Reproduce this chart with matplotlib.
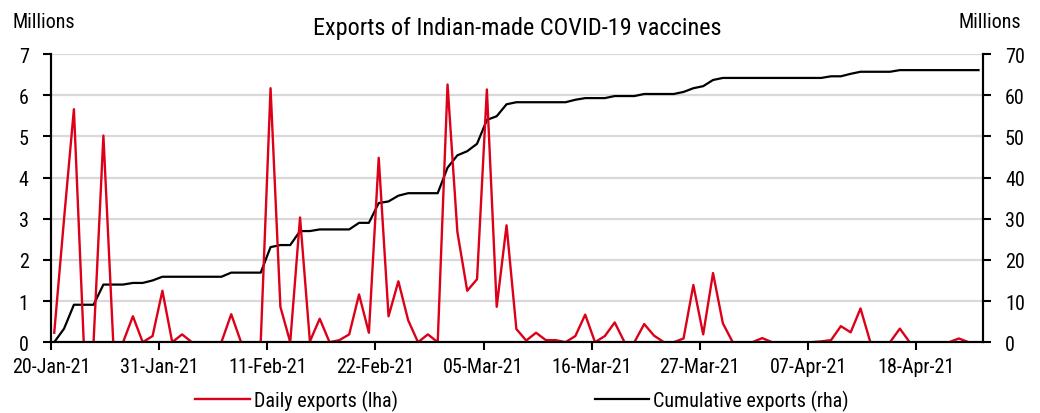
import numpy as np
import pandas as pd
import matplotlib
matplotlib.use('Agg')
import matplotlib.pyplot as plt
import matplotlib.dates as mdates

plt.rcParams['font.family'] = ['Liberation Sans Narrow', 'Arial Narrow', 'Roboto Condensed',
                               'Liberation Sans', 'DejaVu Sans']

# daily exports, millions of doses (left axis)
daily = [0.23, 3.0, 5.66, 0, 0, 5.02, 0, 0, 0.63, 0,
         0.15, 1.25, 0, 0.19, 0, 0, 0, 0, 0.68, 0,
         0, 0, 6.17, 0.86, 0, 3.03, 0.02, 0.57, 0, 0.05,
         0.19, 1.16, 0.23, 4.48, 0.63, 1.48, 0.53, 0, 0.19, 0,
         6.26, 2.68, 1.25, 1.53, 6.14, 0.86, 2.84, 0.32, 0.04, 0.23,
         0.05, 0.05, 0, 0.15, 0.67, 0, 0.15, 0.48, 0, 0,
         0.44, 0.16, 0, 0, 0.09, 1.39, 0.19, 1.68, 0.46, 0,
         0, 0, 0.1, 0, 0, 0, 0, 0, 0.02, 0.05,
         0.39, 0.24, 0.82, 0, 0, 0, 0.33, 0, 0, 0,
         0, 0, 0.09, 0, 0]

# cumulative exports, millions of doses (right axis)
cumulative = [0, 3.3, 9.1, 9.1, 9.1, 14.0, 14.0, 14.0, 14.4, 14.4,
              15.0, 15.9, 15.9, 15.9, 15.9, 15.9, 15.9, 15.9, 16.9, 16.9,
              16.9, 16.9, 23.1, 23.6, 23.6, 27.0, 27.0, 27.4, 27.4, 27.4,
              27.4, 29.0, 29.0, 33.8, 34.2, 35.6, 36.2, 36.2, 36.2, 36.2,
              42.4, 45.4, 46.4, 48.2, 54.0, 54.9, 57.8, 58.3, 58.3, 58.3,
              58.3, 58.3, 58.3, 58.9, 59.3, 59.3, 59.3, 59.8, 59.8, 59.8,
              60.3, 60.3, 60.3, 60.3, 60.8, 61.7, 62.2, 63.7, 64.2, 64.2,
              64.2, 64.2, 64.2, 64.2, 64.2, 64.2, 64.2, 64.2, 64.2, 64.6,
              64.6, 65.2, 65.7, 65.7, 65.7, 65.7, 66.1, 66.1, 66.1, 66.1,
              66.1, 66.1, 66.1, 66.1, 66.1]

dates = pd.date_range('2021-01-20 08:00', periods=len(daily), freq='D')
tick_dates = pd.date_range('2021-01-20', '2021-04-18', freq='11D')

red = '#DC0019'
fs = 14.5

fig = plt.figure(figsize=(10.4, 4.14), dpi=100)
ax = fig.add_axes([0.049, 0.171, 0.896, 0.696])
ax2 = ax.twinx()

# grid on the secondary axis so both lines sit above it
ax2.set_ylim(0, 70)
ax2.set_yticks(np.arange(0, 71, 10))
ax2.yaxis.grid(True, color='#D9D9D9', lw=1.6)
ax2.set_axisbelow(True)
ax2.plot(dates, cumulative, color='black', lw=1.6, label='Cumulative exports (rha)')

ax.set_zorder(ax2.get_zorder() + 1)
ax.patch.set_visible(False)
ax.plot(dates, daily, color=red, lw=1.7, label='Daily exports (lha)')
ax.set_ylim(0, 7)
ax.set_yticks(np.arange(0, 8, 1))

ax.set_xlim(pd.Timestamp('2021-01-20'), pd.Timestamp('2021-01-20') + pd.Timedelta(days=94.77))
ax.set_xticks(tick_dates)
ax.xaxis.set_major_formatter(mdates.DateFormatter('%d-%b-%y'))

for a in (ax, ax2):
    a.spines['top'].set_visible(False)
    for s in ('left', 'right', 'bottom'):
        a.spines[s].set_linewidth(1.5)
        a.spines[s].set_color('black')
    a.tick_params(labelsize=fs, width=1.5, length=6, colors='black')

ax.tick_params(axis='y', pad=10)
ax2.tick_params(axis='y', pad=10)
ax.tick_params(axis='x', pad=5)

fig.text(0.0125, 0.945, 'Millions', fontsize=fs, ha='left', va='center')
fig.text(0.982, 0.945, 'Millions', fontsize=fs, ha='right', va='center')
fig.text(0.497, 0.932, 'Exports of Indian-made COVID-19 vaccines', fontsize=17.5,
         ha='center', va='center')

h1, l1 = ax.get_legend_handles_labels()
h2, l2 = ax2.get_legend_handles_labels()
fig.legend(h1 + h2, l1 + l2, loc='center', bbox_to_anchor=(0.502, 0.03), ncol=2,
           frameon=False, fontsize=fs, handlelength=2.7, handletextpad=0.2,
           columnspacing=9.8, borderpad=0)

fig.savefig('out.png', dpi=100)
